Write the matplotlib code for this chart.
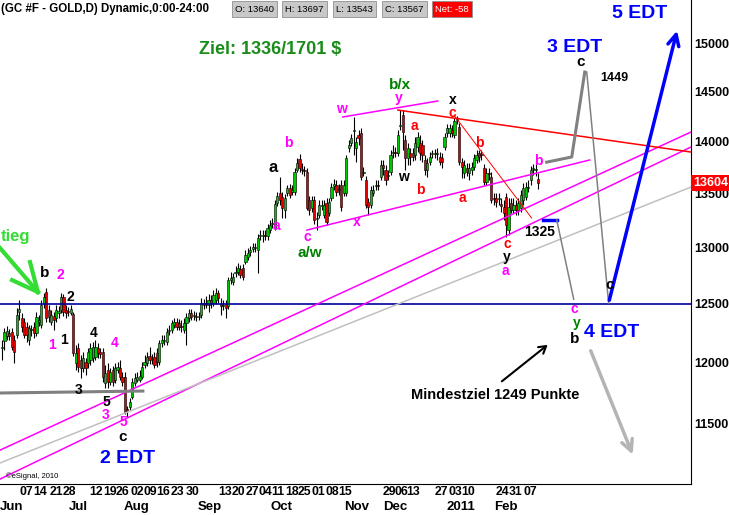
import matplotlib
matplotlib.use("Agg")
import matplotlib.pyplot as plt
import numpy as np
from matplotlib.ticker import NullLocator, NullFormatter, FixedLocator, FixedFormatter

plt.rcParams['font.family'] = ['Liberation Sans', 'DejaVu Sans']

# daily GC futures bars (price x10, as on the chart scale)
opens = [12120, 12180, 12222, 12248, 12257, 12188, 12231, 12429, 12377, 12343,
         12300, 12188, 12274, 12300, 12248, 12343, 12317, 12499, 12604, 12446,
         12343, 12394, 12377, 12420, 12446, 12560, 12446, 12438, 12420, 12412,
         11994, 12120, 12019, 11952, 12002, 11994, 12019, 12036, 12044, 12120,
         12086, 12086, 11828, 11935, 11836, 11935, 11852, 11935, 11952, 11877,
         11877, 11615, 11631, 11713, 11828, 11852, 11852, 11877, 11977, 11994,
         12053, 12027, 12044, 12078, 12002, 12163, 12180, 12171, 12265, 12274,
         12317, 12343, 12334, 12308, 12274, 12334, 12377, 12420, 12394, 12394,
         12386, 12403, 12508, 12499, 12490, 12534, 12508, 12534, 12595, 12499,
         12481, 12499, 12481, 12710, 12692, 12771, 12780, 12807, 12816, 12870,
         12915, 12960, 12988, 12997, 12979, 13106, 13106, 13115, 13106, 13161,
         13216, 13179, 13412, 13506, 13468, 13347, 13506, 13554, 13516, 13516,
         13725, 13832, 13735, 13725, 13706, 13440, 13365, 13440, 13263, 13300,
         13384, 13300, 13412, 13319, 13459, 13573, 13582, 13535, 13582, 13506,
         13506, 13938, 13987, 14105, 13938, 14065, 14085, 13696, 13630, 13421,
         13393, 13506, 13573, 13582, 13658, 13773, 13725, 13668, 13706, 13890,
         13899, 13890, 14154, 14264, 14016, 13841, 13890, 13890, 13870, 13948,
         13987, 13967, 13822, 13725, 13803, 13880, 13890, 13880, 13851, 13841,
         13948, 14085, 14085, 14115, 14065, 14214, 14145, 13803, 13696, 13745,
         13696, 13725, 13754, 13822, 13890, 13880, 13745, 13611, 13696, 13658,
         13459, 13459, 13450, 13403, 13375, 13468, 13161, 13412, 13347, 13393,
         13347, 13365, 13440, 13468, 13554, 13630, 13735, 13725, 13640]
highs = [12188, 12291, 12308, 12282, 12291, 12231, 12464, 12534, 12420, 12377,
         12343, 12317, 12317, 12343, 12429, 12403, 12534, 12595, 12639, 12490,
         12446, 12429, 12490, 12481, 12595, 12586, 12490, 12473, 12490, 12429,
         12146, 12163, 12061, 12086, 12036, 12120, 12163, 12171, 12188, 12163,
         12120, 12120, 11977, 11994, 11952, 11969, 11994, 12002, 12019, 11919,
         11919, 11639, 11704, 11869, 11910, 11919, 11935, 12002, 12061, 12086,
         12129, 12069, 12086, 12120, 12188, 12231, 12231, 12291, 12317, 12360,
         12377, 12377, 12369, 12360, 12377, 12420, 12455, 12455, 12438, 12429,
         12429, 12551, 12542, 12569, 12586, 12578, 12621, 12639, 12621, 12551,
         12534, 12534, 12736, 12780, 12771, 12834, 12861, 12843, 12852, 12979,
         12997, 13015, 13042, 13042, 13124, 13161, 13161, 13161, 13216, 13254,
         13272, 13440, 13516, 13658, 13516, 13497, 13582, 13592, 13582, 13745,
         13841, 13880, 13793, 13764, 13745, 13478, 13478, 13478, 13328, 13440,
         13440, 13440, 13459, 13459, 13601, 13639, 13630, 13592, 13630, 13630,
         13870, 14016, 14075, 14244, 14045, 14115, 14135, 13754, 13668, 13459,
         13573, 13582, 13630, 13630, 13822, 13822, 13773, 13725, 13919, 13967,
         13948, 14115, 14313, 14313, 14065, 13987, 13938, 13938, 14045, 14095,
         14065, 14016, 13870, 13841, 13899, 13919, 13928, 13938, 13899, 13890,
         14085, 14174, 14174, 14164, 14234, 14254, 14184, 13841, 13822, 13793,
         13793, 13803, 13880, 13919, 13919, 13919, 13783, 13745, 13745, 13706,
         13506, 13506, 13506, 13459, 13440, 13506, 13459, 13459, 13459, 13440,
         13459, 13535, 13601, 13611, 13630, 13764, 13783, 13822, 13697]
lows = [12019, 12103, 12188, 12188, 12103, 11994, 12205, 12360, 12257, 12205,
        12171, 12146, 12222, 12205, 12222, 12308, 12291, 12464, 12343, 12343,
        12317, 12274, 12343, 12377, 12420, 12394, 12377, 12394, 12403, 12053,
        11935, 11919, 11869, 11919, 11894, 11952, 11977, 12002, 12019, 12036,
        12036, 11836, 11786, 11786, 11811, 11803, 11828, 11910, 11852, 11803,
        11575, 11551, 11607, 11696, 11803, 11836, 11836, 11860, 11952, 11969,
        11986, 11986, 11952, 11960, 11977, 12129, 12146, 12146, 12231, 12248,
        12291, 12274, 12274, 12257, 12248, 12146, 12343, 12360, 12360, 12351,
        12360, 12377, 12455, 12464, 12429, 12464, 12481, 12499, 12508, 12403,
        12446, 12377, 12455, 12675, 12666, 12736, 12754, 12727, 12710, 12852,
        12888, 12924, 12960, 12960, 12772, 13069, 13051, 13069, 13069, 13134,
        13179, 13161, 13384, 13393, 13272, 13272, 13478, 13459, 13487, 13487,
        13706, 13706, 13687, 13668, 13347, 13300, 13328, 13216, 13161, 13272,
        13347, 13272, 13207, 13291, 13431, 13535, 13478, 13487, 13337, 13478,
        13478, 13899, 13957, 13870, 13803, 13967, 13630, 13668, 13365, 13300,
        13365, 13478, 13535, 13535, 13630, 13677, 13582, 13630, 13677, 13841,
        13851, 13861, 14115, 13919, 13725, 13773, 13773, 13812, 13822, 13899,
        13822, 13803, 13677, 13658, 13773, 13841, 13841, 13822, 13773, 13745,
        13919, 14045, 14045, 14045, 14036, 14174, 13773, 13649, 13649, 13668,
        13630, 13677, 13725, 13793, 13803, 13822, 13582, 13582, 13630, 13412,
        13393, 13375, 13393, 13328, 13254, 13097, 13115, 13319, 13319, 13300,
        13300, 13328, 13393, 13440, 13516, 13582, 13677, 13668, 13543]
closes = [12129, 12257, 12265, 12222, 12129, 12086, 12403, 12455, 12300, 12231,
          12231, 12291, 12282, 12248, 12386, 12360, 12490, 12560, 12377, 12386,
          12403, 12360, 12446, 12438, 12560, 12429, 12420, 12429, 12455, 12078,
          12078, 11960, 11952, 12036, 11952, 12086, 12120, 12129, 12129, 12078,
          12069, 11877, 11910, 11836, 11919, 11836, 11952, 11960, 11877, 11836,
          11591, 11599, 11672, 11836, 11869, 11877, 11886, 11960, 12002, 12044,
          12019, 12036, 11977, 12002, 12163, 12188, 12188, 12257, 12274, 12334,
          12343, 12300, 12300, 12300, 12334, 12386, 12420, 12386, 12403, 12386,
          12394, 12508, 12490, 12508, 12534, 12508, 12578, 12595, 12551, 12481,
          12490, 12464, 12710, 12727, 12736, 12780, 12816, 12754, 12736, 12933,
          12951, 12979, 13006, 13006, 13088, 13115, 13115, 13106, 13179, 13207,
          13226, 13403, 13478, 13440, 13365, 13459, 13554, 13487, 13535, 13706,
          13793, 13745, 13725, 13716, 13365, 13347, 13440, 13254, 13272, 13393,
          13393, 13393, 13235, 13421, 13563, 13592, 13516, 13544, 13375, 13582,
          13841, 13967, 14036, 14115, 13997, 14036, 13658, 13706, 13393, 13375,
          13535, 13535, 13582, 13573, 13773, 13745, 13630, 13677, 13870, 13899,
          13890, 14065, 14164, 14095, 13841, 13938, 13851, 13851, 13987, 14045,
          13890, 13870, 13725, 13793, 13851, 13890, 13880, 13890, 13803, 13803,
          14045, 14135, 14135, 14085, 14204, 14224, 13803, 13754, 13773, 13706,
          13745, 13754, 13841, 13870, 13851, 13870, 13611, 13696, 13687, 13440,
          13450, 13421, 13459, 13384, 13319, 13207, 13375, 13347, 13393, 13347,
          13412, 13487, 13554, 13563, 13563, 13725, 13745, 13735, 13604]
last_price = 13604

price_ticks = [11500, 12000, 12500, 13000, 13500, 14000, 14500, 15000]

day_labels = ['07', '14', '21', '28', '12', '19', '26', '02', '09', '16', '23', '30',
              '13', '20', '27', '04', '11', '18', '25', '01', '08', '15',
              '29', '06', '13', '27', '03', '10', '24', '31', '07']
day_pos = [9.8, 15.4, 22.0, 27.3, 38.2, 43.9, 49.2, 54.9, 60.2, 65.5, 71.2, 77.3,
           90.7, 96.0, 101.7, 107.0, 112.2, 117.9, 123.2, 128.5, 134.2, 139.5,
           157.4, 162.3, 167.1, 178.5, 184.2, 189.5, 203.7, 209.0, 214.7]
month_labels = ['Jun', 'Jul', 'Aug', 'Sep', 'Oct', 'Nov', 'Dec', '2011', 'Feb']
month_pos = [4.1, 30.9, 54.9, 84.6, 113.5, 144.4, 159.8, 186.7, 205.0]

# analyst drawings: (bar, price) anchor points
chan_a = ([-0.8, 280.2], [11284, 14095])
chan_b = ([-0.8, 280.2], [11058, 13948])
gray_trend = ([-0.8, 280.2], [11183, 13563])
line_c = ([124.0, 239.0], [13161, 13822])
line_d = ([138.6, 177.2], [14244, 14404])
red_long = ([161.0, 280.2], [14313, 13899])
red_thin = ([184.1, 215.4], [14253, 13272])
gray_base = ([-0.8, 57.3], [11744, 11760])
proj_up = ([221.5, 231.7, 237.0], [13801, 13851, 14699])
proj_down = ([237.8, 246.7], [14699, 12507])
mark_1325 = ([219.9, 225.6], [13254, 13254])
proj_1325 = ([225.6, 232.5], [13254, 12540])
level = 12500

wave_labels = [
    ('Ziel: 1336/1701 $', 108.9, 14927, '#1a8c1a', 13),
    ('5 EDT', 259.3, 15318, '#0000ff', 14),
    ('3 EDT', 232.9, 14958, '#0000ff', 14),
    ('c', 235.4, 14802, 'black', 11),
    ('1449', 249.2, 14637, 'black', 9),
    ('b/x', 161.8, 14566, '#008000', 11),
    ('y', 161.4, 14434, '#ff00ff', 10),
    ('w', 138.2, 14323, '#ff00ff', 10),
    ('x', 183.3, 14414, 'black', 10),
    ('c', 183.3, 14285, '#ff0000', 10),
    ('a', 167.9, 14154, '#ff0000', 10),
    ('b', 194.3, 13987, '#ff0000', 10),
    ('w', 163.4, 13658, 'black', 10),
    ('b', 170.3, 13535, '#ff0000', 10),
    ('a', 187.4, 13459, '#ff0000', 10),
    ('b', 217.9, 13812, '#ff00ff', 10),
    ('c', 205.3, 13035, '#ff0000', 10),
    ('y', 205.3, 12920, 'black', 10),
    ('a', 204.9, 12790, '#ff00ff', 10),
    ('1325', 218.7, 13143, 'black', 10),
    ('b', 116.3, 13987, '#ff00ff', 10),
    ('a', 110.2, 13754, 'black', 12),
    ('a', 111.8, 13198, '#ff00ff', 10),
    ('c', 124.0, 13097, '#ff00ff', 10),
    ('a/w', 125.2, 12951, '#008000', 11),
    ('x', 144.3, 13235, '#ff00ff', 10),
    ('tieg', 5.3, 13106, '#33dd33', 12),
    ('b', 17.5, 12771, 'black', 11),
    ('2', 23.6, 12754, '#ff00ff', 10),
    ('2', 27.6, 12559, 'black', 10),
    ('1', 20.3, 12146, '#ff00ff', 10),
    ('1', 25.2, 12188, 'black', 10),
    ('4', 37.4, 12248, 'black', 10),
    ('4', 45.9, 12163, '#ff00ff', 10),
    ('3', 31.3, 11770, 'black', 10),
    ('5', 42.3, 11672, 'black', 10),
    ('3', 42.3, 11567, '#ff00ff', 10),
    ('5', 49.6, 11510, '#ff00ff', 10),
    ('c', 49.2, 11388, 'black', 11),
    ('2 EDT', 51.2, 11222, '#0000ff', 14),
    ('c', 247.2, 12666, 'black', 11),
    ('4 EDT', 248.0, 12255, '#0000ff', 14),
    ('c', 232.9, 12455, '#ff00ff', 10),
    ('y', 233.7, 12335, '#008000', 10),
    ('b', 232.9, 12195, 'black', 11),
    ('Mindestziel 1249 Punkte', 200.4, 11729, 'black', 10.5),
]

opens = np.array(opens)
highs = np.array(highs)
lows = np.array(lows)
closes = np.array(closes)
x = np.arange(len(closes))

fig = plt.figure(figsize=(7.29, 5.15), dpi=100)
ax = fig.add_axes([0, 31 / 515, 691 / 729, 484 / 515])
ax.set_yscale('log')

# candles
up = closes >= opens
ax.vlines(x, lows, highs, color='black', lw=0.8, zorder=2)
body_lo = np.minimum(opens, closes)
body_h = np.maximum(np.abs(closes - opens), 5)
ax.bar(x, body_h, bottom=body_lo, width=0.9,
       color=np.where(up, '#00c800', '#e00000'),
       edgecolor='black', linewidth=0.4, zorder=3)

# lines
ax.axhline(level, color='#0000a0', lw=1.2, zorder=4)
ax.plot(*chan_a, color='#ff00ff', lw=1.1, zorder=4)
ax.plot(*chan_b, color='#ff00ff', lw=1.1, zorder=4)
ax.plot(*gray_trend, color='#c0c0c0', lw=1.1, zorder=4)
ax.plot(*line_c, color='#ff00ff', lw=1.1, zorder=4)
ax.plot(*line_d, color='#ff00ff', lw=1.1, zorder=4)
ax.plot(*red_long, color='#ff0000', lw=1.1, zorder=4)
ax.plot(*red_thin, color='#ff0000', lw=0.7, zorder=4)
ax.plot(*gray_base, color='#808080', lw=2.2, zorder=4)
ax.plot(*proj_up, color='#808080', lw=2.2, zorder=4)
ax.plot(*proj_down, color='#808080', lw=1.1, zorder=4)
ax.plot(*mark_1325, color='#0000ff', lw=2.5, zorder=4)
ax.plot(*proj_1325, color='#808080', lw=1.1, zorder=4)

ax.annotate('', xy=(274.8, 15158), xytext=(246.7, 12507),
            arrowprops=dict(arrowstyle='->,head_length=0.8,head_width=0.4', color='#0000ff', lw=2.5), zorder=5)
ax.annotate('', xy=(256.9, 11229), xytext=(239.0, 12118),
            arrowprops=dict(arrowstyle='->,head_length=0.8,head_width=0.4', color='#b4b4b4', lw=2.5), zorder=5)
ax.annotate('', xy=(222.8, 12161), xytext=(202.4, 11826),
            arrowprops=dict(arrowstyle='->,head_length=0.5,head_width=0.3', color='black', lw=1.5), zorder=5)
# green arrow top left
ax.plot([-0.8, 14.6], [12997, 12603], color='#33dd33', lw=3, zorder=5)
ax.plot([4.1, 14.6], [12709, 12603], color='#33dd33', lw=3, zorder=5)
ax.plot([11.4, 14.6], [12870, 12603], color='#33dd33', lw=3, zorder=5)

for txt, bx, py, col, fs in wave_labels:
    ax.text(bx, py, txt, color=col, fontsize=fs, fontweight='bold',
            ha='center', va='center', zorder=6)

ax.set_xlim(-0.8, 280.2)
ax.set_ylim(11020, 15458)

# axes look
for s in ['left', 'top']:
    ax.spines[s].set_visible(False)
ax.spines['right'].set_color('black')
ax.spines['bottom'].set_color('black')
ax.yaxis.tick_right()
ax.yaxis.set_major_locator(FixedLocator(price_ticks))
ax.yaxis.set_major_formatter(FixedFormatter([str(p) for p in price_ticks]))
ax.yaxis.set_minor_locator(NullLocator())
ax.yaxis.set_minor_formatter(NullFormatter())
ax.tick_params(axis='y', length=0, pad=2)
for lab in ax.get_yticklabels():
    lab.set_fontweight('bold')
    lab.set_fontsize(9)
ax.set_xticks([])

tr = ax.get_xaxis_transform()
for lab, p in zip(day_labels, day_pos):
    ax.text(p, -0.017, lab, transform=tr, ha='center', va='center',
            fontsize=8.8, fontweight='bold', clip_on=False)
for lab, p in zip(month_labels, month_pos):
    ax.text(p, -0.048, lab, transform=tr, ha='center', va='center',
            fontsize=9.5, fontweight='bold', clip_on=False)

# last price marker
ax.text(1.003, last_price, str(last_price), transform=ax.get_yaxis_transform(),
        ha='left', va='center', color='white', fontsize=9, fontweight='bold',
        bbox=dict(boxstyle='square,pad=0.15', fc='#ff0000', ec='none'),
        clip_on=False, zorder=7)

# header
fig.text(0.001, 1 - 9 / 515, '(GC #F - GOLD,D) Dynamic,0:00-24:00', ha='left', va='center',
         fontsize=8.3, fontweight='bold')
hdr = [('O: 13640', 235, '#c8c8c8'), ('H: 13697', 285, '#c8c8c8'),
       ('L: 13543', 336, '#c8c8c8'), ('C: 13567', 385, '#c8c8c8'), ('Net: -58', 435, '#ff0000')]
for t, px_, col in hdr:
    fig.text(px_ / 729, 1 - 9 / 515, t, ha='left', va='center', fontsize=6.8,
             color='black' if col != '#ff0000' else 'white',
             bbox=dict(boxstyle='square,pad=0.35', fc=col, ec='#909090', lw=0.6))
fig.text(0.008, (515 - 476) / 515, '\u00a9eSignal, 2010', fontsize=5.5, ha='left', va='center')

fig.savefig('out.png', dpi=100)
